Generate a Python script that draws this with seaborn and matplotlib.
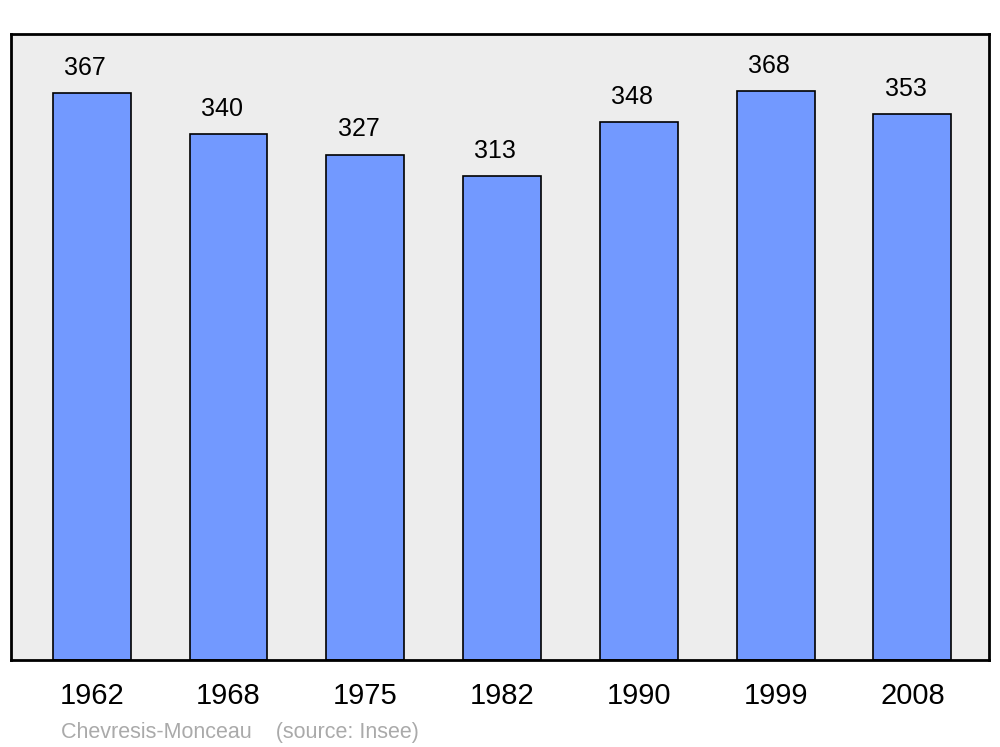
import matplotlib
matplotlib.use("Agg")
import matplotlib.pyplot as plt
import seaborn as sns
import pandas as pd

years = ["1962", "1968", "1975", "1982", "1990", "1999", "2008"]
population = [367, 340, 327, 313, 348, 368, 353]
source_text = "Chevresis-Monceau    (source: Insee)"

sns.set_theme(style="white")
plt.rcParams['font.family'] = ['Liberation Sans', 'DejaVu Sans']

df = pd.DataFrame({"year": years, "pop": population})

fig = plt.figure(figsize=(10, 7.47), dpi=100)
ax = fig.add_axes([0.011, 0.1165, 0.978, 0.838])
ax.set_facecolor("#EDEDED")

sns.barplot(data=df, x="year", y="pop", color="#7299FF", width=0.57,
            edgecolor="black", linewidth=1.2, saturation=1, ax=ax)

for i, v in enumerate(population):
    ax.text(i - 0.05, v + 8.5, str(v), ha="center", va="bottom", fontsize=18, color="black")

ax.set_ylim(0, 405)
ax.set_xlim(-0.59, 6.56)
ax.set_xlabel("")
ax.set_ylabel("")
ax.set_yticks([])
ax.set_xticks(range(len(years)))
ax.set_xticklabels(years, x=0)
ax.tick_params(axis="x", length=0, labelsize=21, pad=16, colors="black")
for lbl in ax.get_xticklabels():
    lbl.set_x(lbl.get_position()[0])
for s in ax.spines.values():
    s.set_visible(True)
    s.set_color("black")
    s.set_linewidth(2)

fig.text(0.061, 0.005, source_text, fontsize=15.5, color="#AAAAAA", ha="left", va="bottom")

fig.savefig("out.png", dpi=100, facecolor="white")
